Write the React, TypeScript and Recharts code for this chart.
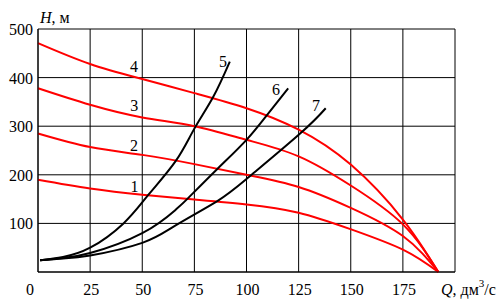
import React from 'react'
import { LineChart, Line, XAxis, YAxis, CartesianGrid, ReferenceDot } from 'recharts'

const FONT = 'Liberation Serif, Times New Roman, serif'

// pump head curves (red), read every 25 dm3/s
const pumpQ = [0, 25, 50, 75, 100, 125, 150, 175, 192]
const pump1H = [190, 172, 159, 149, 139, 122, 88, 46, 0]
const pump2H = [285, 257, 241, 222, 200, 175, 132, 74, 0]
const pump3H = [378, 344, 318, 300, 272, 238, 178, 98, 0]
const pump4H = [471, 428, 397, 368, 337, 293, 221, 108, 0]

// pipeline curves (black)
const pipe5Q = [1, 12, 25, 41, 53, 66, 75, 84, 92]
const pipe5H = [24, 31, 50, 100, 159, 228, 295, 360, 433]
const pipe6Q = [1, 12, 25, 50, 66, 72, 86, 100, 110, 120]
const pipe6H = [24, 29, 39, 80, 128, 152, 212, 272, 324, 378]
const pipe7Q = [1, 12, 25, 50, 66, 86, 101, 126, 138]
const pipe7H = [24, 28, 34, 60, 96, 146, 195, 286, 337]

const curveLabels = ['1', '2', '3', '4', '5', '6', '7']
const labelQ = [46.3, 46, 46.2, 46, 88.7, 114.1, 133.3]
const labelH = [176, 260, 342, 423, 433, 375, 342]

const xTicks = [0, 25, 50, 75, 100, 125, 150, 175, 200]
const yTicks = [0, 100, 200, 300, 400, 500]

const toPoints = (q: number[], h: number[]) => q.map((v, i) => ({ q: v, h: h[i] }))

const red = [pump1H, pump2H, pump3H, pump4H].map((h) => toPoints(pumpQ, h))
const black = [
  toPoints(pipe5Q, pipe5H),
  toPoints(pipe6Q, pipe6H),
  toPoints(pipe7Q, pipe7H),
]

const XTick = ({ x, y, payload }: any) => {
  if (payload.value === 200) return <g />
  return (
    <text x={x + (payload.value === 0 ? -8 : 1)} y={y + 23} textAnchor="middle"
      fontFamily={FONT} fontSize={16} fill="#000">
      {payload.value}
    </text>
  )
}

const YTick = ({ x, y, payload }: any) => {
  if (payload.value === 0) return <g />
  return (
    <text x={x} y={y + 6} textAnchor="end" fontFamily={FONT} fontSize={16} fill="#000">
      {payload.value}
    </text>
  )
}

const CurveName = (text: string) => (props: any) => (
  <text x={props.cx} y={props.cy} textAnchor="middle" dominantBaseline="central"
    fontFamily={FONT} fontSize={16} fill="#000">
    {text}
  </text>
)

export default function App() {
  return (
    <div style={{ position: 'absolute', left: 0, top: 0, background: '#fff' }}>
      <LineChart width={502} height={306} margin={{ top: 29, right: 47, bottom: 0, left: 0 }}>
        <CartesianGrid stroke="#000" strokeWidth={1} />
        <XAxis
          type="number"
          dataKey="q"
          domain={[0, 200]}
          ticks={xTicks}
          height={34}
          axisLine={{ stroke: '#000' }}
          tickLine={false}
          tickSize={0}
          tickMargin={0}
          tick={<XTick />}
          label={{
            content: (p: any) => (
              <text x={p.viewBox.x + p.viewBox.width - 14} y={295}
                fontFamily={FONT} fontSize={16} fill="#000">
                <tspan fontStyle="italic">Q</tspan>
                <tspan>, дм</tspan>
                <tspan dy={-8} fontSize={11}>3</tspan>
                <tspan dy={8}>/с</tspan>
              </text>
            ),
          }}
        />
        <YAxis
          type="number"
          domain={[0, 500]}
          ticks={yTicks}
          width={38}
          axisLine={{ stroke: '#000' }}
          tickLine={false}
          tickSize={0}
          tickMargin={5}
          tick={<YTick />}
          label={{
            content: () => (
              <text x={40} y={23} fontFamily={FONT} fontSize={16} fill="#000">
                <tspan fontStyle="italic">H</tspan>
                <tspan>, м</tspan>
              </text>
            ),
          }}
        />
        {red.map((d, i) => (
          <Line key={'r' + i} data={d} dataKey="h" type="natural" stroke="#ff0000"
            strokeWidth={2} dot={false} isAnimationActive={false} />
        ))}
        {black.map((d, i) => (
          <Line key={'b' + i} data={d} dataKey="h" type="natural" stroke="#000"
            strokeWidth={2} dot={false} isAnimationActive={false} />
        ))}
        {curveLabels.map((t, i) => (
          <ReferenceDot key={t} x={labelQ[i]} y={labelH[i]} r={1} shape={CurveName(t)} />
        ))}
      </LineChart>
    </div>
  )
}
